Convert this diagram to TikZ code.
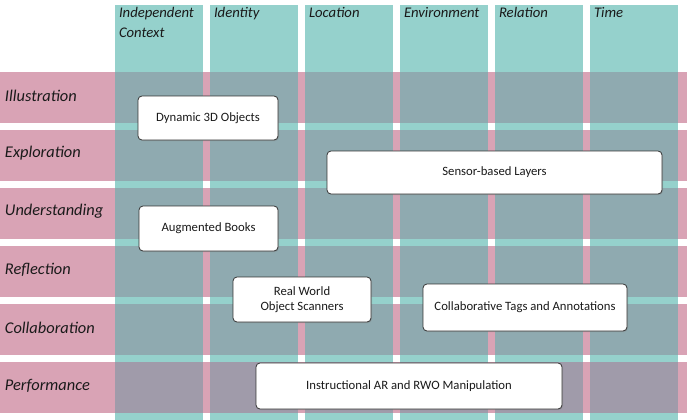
\documentclass[tikz,border=0pt]{standalone}
\usepackage{fontspec}
\setmainfont{Carlito}
\usetikzlibrary{positioning, shadows}

\definecolor{bandteal}{HTML}{95D1CC}
\definecolor{bandpink}{HTML}{D9A3B5}
\definecolor{cellgrey}{HTML}{8FAAB0}
\definecolor{cellmauve}{HTML}{A09BAA}
\definecolor{inkdark}{HTML}{1A1A1A}

\begin{document}
\begin{tikzpicture}[
    x=1pt, y=-1pt,
    colband/.style={rectangle, fill=bandteal, minimum width=88pt, minimum height=415pt, inner sep=0pt},
    rowband/.style={rectangle, fill=bandpink, minimum width=687pt, minimum height=51pt, inner sep=0pt},
    cell/.style={fill=cellgrey},
    perfcell/.style={fill=cellmauve},
    colhead/.style={align=left, inner sep=0pt, font=\fontsize{14.7}{20}\selectfont\itshape, text=inkdark},
    rowhead/.style={inner sep=0pt, font=\fontsize{16.4}{19}\selectfont\itshape, text=inkdark},
    app/.style={rectangle, draw=black!80, line width=0.8pt, fill=white, rounded corners=4pt, align=center, font=\fontsize{12.7}{15}\selectfont, text=inkdark, drop shadow={opacity=0.35, shadow xshift=1pt, shadow yshift=-1pt}}
    ]
    \useasboundingbox (0,0) rectangle (688,420);
    % context columns
    \node[colband] (cInd) at (159,212.5) {};
    \node[colband] (cIde) at (254,212.5) {};
    \node[colband] (cLoc) at (349,212.5) {};
    \node[colband] (cEnv) at (444,212.5) {};
    \node[colband] (cRel) at (539,212.5) {};
    \node[colband] (cTim) at (634,212.5) {};
    % activity rows
    \node[rowband] (rIll) at (343.5,97.5) {};
    \node[rowband] (rExp) at (343.5,155.5) {};
    \node[rowband] (rUnd) at (343.5,213.5) {};
    \node[rowband] (rRef) at (343.5,271.5) {};
    \node[rowband] (rCol) at (343.5,329.5) {};
    \node[rowband] (rPer) at (343.5,387.5) {};
    % overlaps
    \foreach \c in {cInd,cIde,cLoc,cEnv,cRel,cTim} {
      \foreach \r in {rIll,rExp,rUnd,rRef,rCol}
        \fill[cell] (\c.west |- \r.north) rectangle (\c.east |- \r.south);
      \fill[perfcell] (\c.west |- rPer.north) rectangle (\c.east |- rPer.south);
    }
    % headers
    \node[colhead, below right=2pt and 4pt of cInd.north west] (hInd) {Independent\\Context};
    \node[colhead, below right=2pt and 4pt of cIde.north west] (hIde) {Identity};
    \node[colhead, below right=2pt and 4pt of cLoc.north west] (hLoc) {Location};
    \node[colhead, below right=2pt and 4pt of cEnv.north west] (hEnv) {Environment};
    \node[colhead, below right=2pt and 4pt of cRel.north west] (hRel) {Relation};
    \node[colhead, below right=2pt and 4pt of cTim.north west] (hTim) {Time};
    \node[rowhead, right=5pt of rIll.west, yshift=2pt] (lIll) {Illustration};
    \node[rowhead, right=5pt of rExp.west, yshift=2pt] (lExp) {Exploration};
    \node[rowhead, right=5pt of rUnd.west, yshift=2pt] (lUnd) {Understanding};
    \node[rowhead, right=5pt of rRef.west, yshift=2pt] (lRef) {Reflection};
    \node[rowhead, right=5pt of rCol.west, yshift=2pt] (lCol) {Collaboration};
    \node[rowhead, right=5pt of rPer.west, yshift=2pt] (lPer) {Performance};
    % applications
    \node[app, minimum width=140pt, minimum height=44pt] (dyn) at (208,118) {Dynamic 3D Objects};
    \node[app, minimum width=335pt, minimum height=43pt] (sensor) at (494.5,172.5) {Sensor-based Layers};
    \node[app, minimum width=139pt, minimum height=45pt] (books) at (208.5,228.5) {Augmented Books};
    \node[app, minimum width=138pt, minimum height=45pt] (scan) at (302,299.5) {Real World\\Object Scanners};
    \node[app, minimum width=204pt, minimum height=47pt] (tags) at (525,307.5) {Collaborative Tags and Annotations};
    \node[app, minimum width=306pt, minimum height=46pt] (instr) at (409,386) {Instructional AR and RWO Manipulation};
\end{tikzpicture}
\end{document}
